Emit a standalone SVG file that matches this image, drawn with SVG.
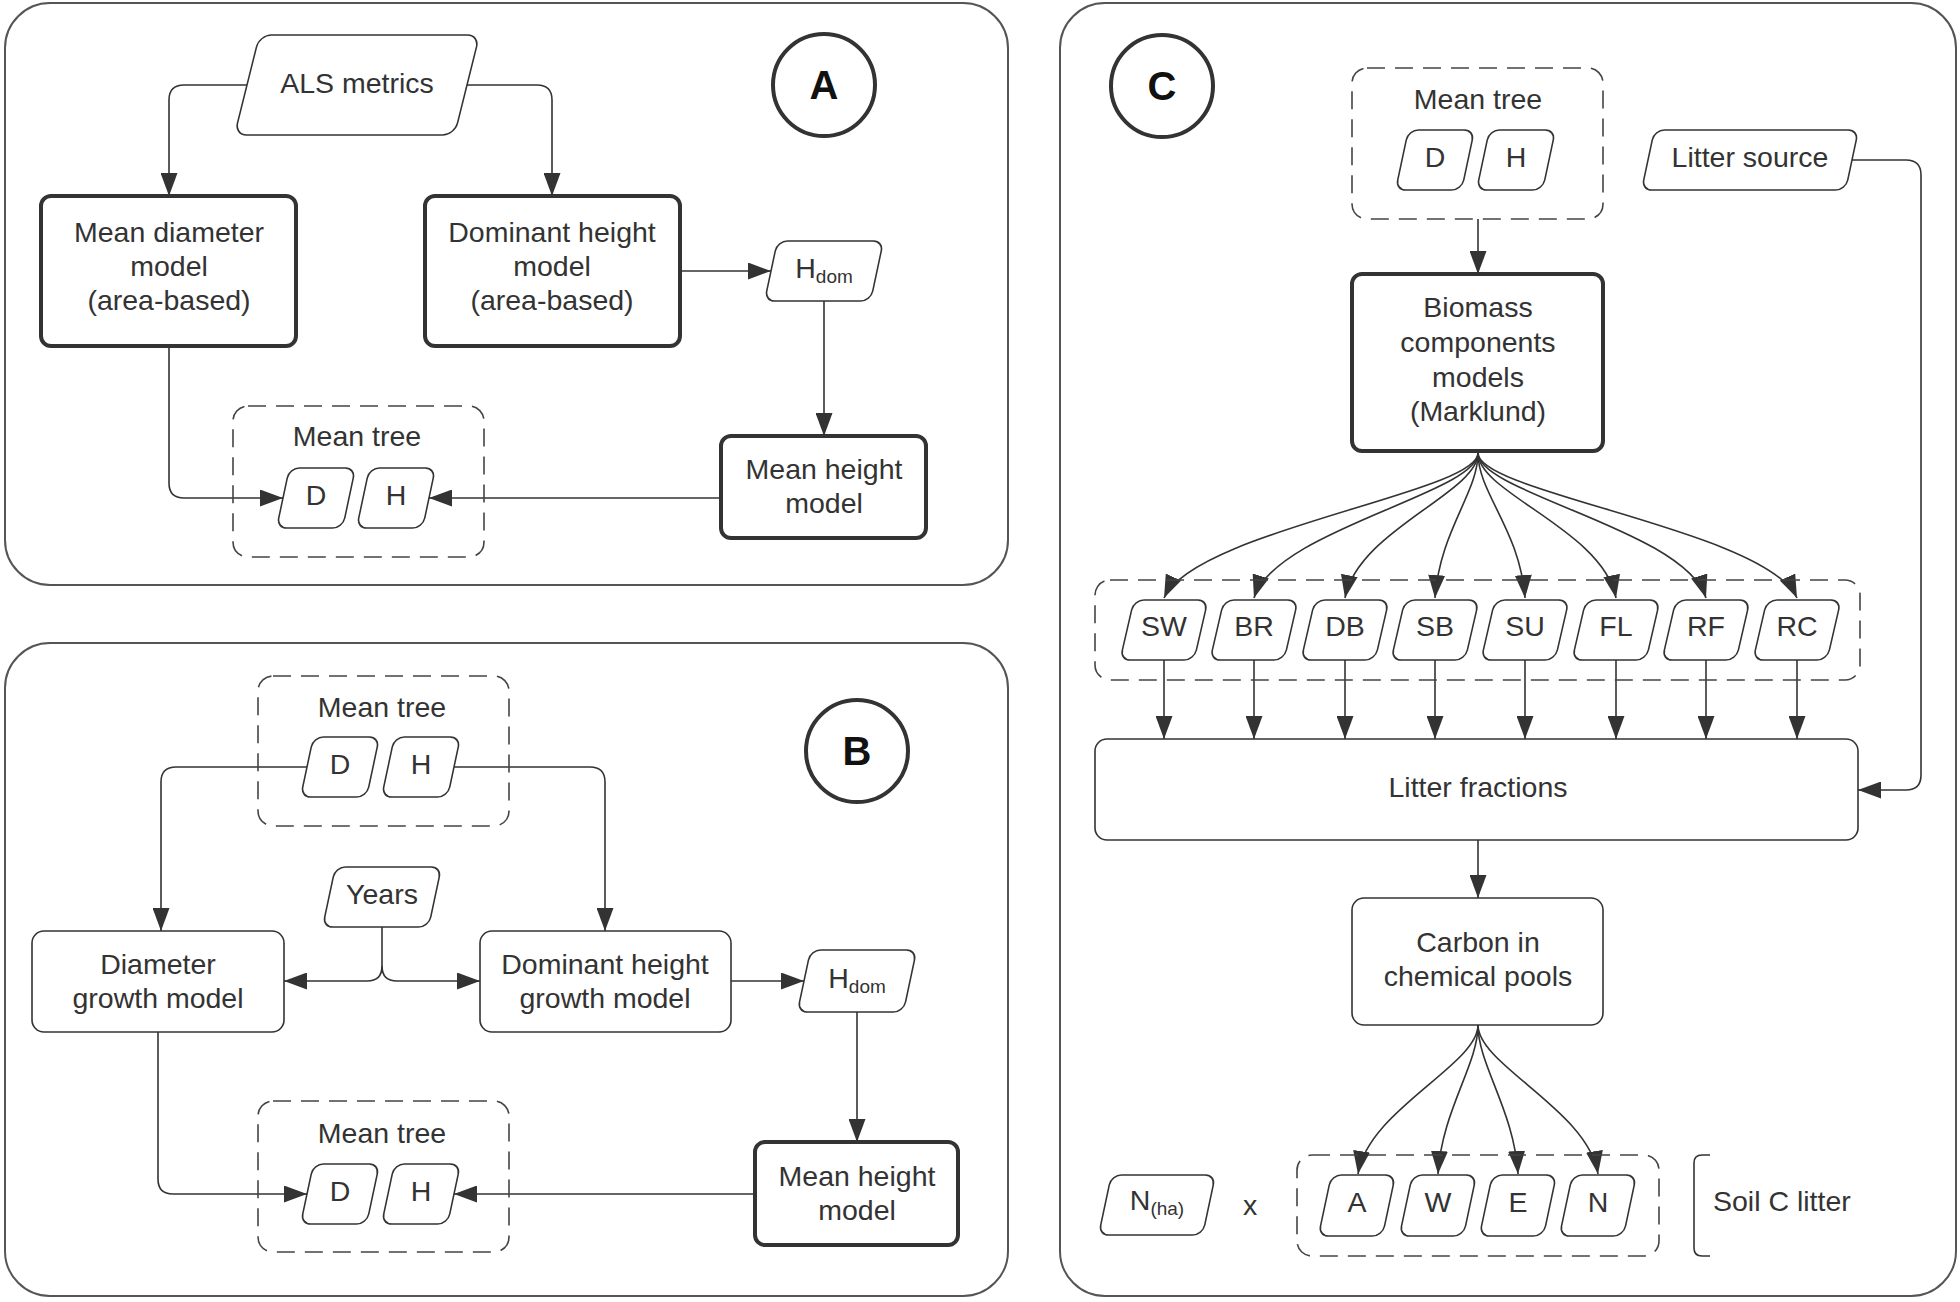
<svg xmlns="http://www.w3.org/2000/svg" width="1960" height="1302" viewBox="0 0 1960 1302">
<defs>
<style>
.panel{fill:#fff;stroke:#555;stroke-width:2}
.node{fill:#fff;stroke:#333;stroke-width:1.6}
.bold{fill:#fff;stroke:#333;stroke-width:4}
.circ{fill:#fff;stroke:#333;stroke-width:4}
.dash{fill:none;stroke:#444;stroke-width:1.6;stroke-dasharray:18 10}
.edge{fill:none;stroke:#333;stroke-width:1.6;marker-end:url(#arr)}
.line{fill:none;stroke:#333;stroke-width:1.6}
.t{font-family:"Liberation Sans",Arial,sans-serif;font-size:28.5px;fill:#333;text-anchor:middle}
.tl{font-family:"Liberation Sans",Arial,sans-serif;font-size:28.5px;fill:#333;text-anchor:start}
.lbl{font-family:"Liberation Sans",Arial,sans-serif;font-size:40px;font-weight:bold;fill:#111;text-anchor:middle}
</style>
<marker id="arr" viewBox="0 0 23 17" refX="23" refY="8.5" markerWidth="23" markerHeight="17" markerUnits="userSpaceOnUse" orient="auto">
<path d="M0,0 L23,8.5 L0,17 z" fill="#333"/>
</marker>
</defs>

<g id="panels">
<rect class="panel" x="5" y="3" width="1003" height="582" rx="45"/>
<rect class="panel" x="5" y="643" width="1003" height="653" rx="45"/>
<rect class="panel" x="1060" y="3" width="896" height="1293" rx="45"/>
</g>

<g id="connectors">
<!-- Panel A -->
<path class="edge" d="M247 85 H184 Q169 85 169 100 V196"/>
<path class="edge" d="M467 85 H537 Q552 85 552 100 V196"/>
<path class="edge" d="M680 271 H771"/>
<path class="edge" d="M824 301 V436"/>
<path class="edge" d="M169 346 V483 Q169 498 184 498 H283"/>
<path class="edge" d="M721 498 H429"/>
<!-- Panel B -->
<path class="edge" d="M307 767 H176 Q161 767 161 782 V931"/>
<path class="edge" d="M454 767 H590 Q605 767 605 782 V931"/>
<path class="edge" d="M382 927 V966 Q382 981 367 981 H284"/>
<path class="edge" d="M382 966 Q382 981 397 981 H480"/>
<path class="edge" d="M731 981 H804"/>
<path class="edge" d="M857 1012 V1142"/>
<path class="edge" d="M158 1032 V1179 Q158 1194 173 1194 H307"/>
<path class="edge" d="M755 1194 H454"/>
<!-- Panel C -->
<path class="edge" d="M1478 219 V274"/>
<path class="edge" d="M1478 453 C1478 493 1195 530 1164 598"/>
<path class="edge" d="M1478 453 C1478 493 1275 530 1254 598"/>
<path class="edge" d="M1478 453 C1478 493 1358 530 1345 598"/>
<path class="edge" d="M1478 453 C1478 493 1440 530 1435 598"/>
<path class="edge" d="M1478 453 C1478 493 1520 530 1525 598"/>
<path class="edge" d="M1478 453 C1478 493 1603 530 1616 598"/>
<path class="edge" d="M1478 453 C1478 493 1685 530 1706 598"/>
<path class="edge" d="M1478 453 C1478 493 1766 530 1797 598"/>
<path class="edge" d="M1164 660 V739"/>
<path class="edge" d="M1254 660 V739"/>
<path class="edge" d="M1345 660 V739"/>
<path class="edge" d="M1435 660 V739"/>
<path class="edge" d="M1525 660 V739"/>
<path class="edge" d="M1616 660 V739"/>
<path class="edge" d="M1706 660 V739"/>
<path class="edge" d="M1797 660 V739"/>
<path class="edge" d="M1852 160 H1906 Q1921 160 1921 175 V775 Q1921 790 1906 790 H1858"/>
<path class="edge" d="M1478 840 V898"/>
<path class="edge" d="M1478 1025 C1478 1065 1368 1110 1358 1174"/>
<path class="edge" d="M1478 1025 C1478 1065 1442 1110 1438 1174"/>
<path class="edge" d="M1478 1025 C1478 1065 1514 1110 1518 1174"/>
<path class="edge" d="M1478 1025 C1478 1065 1588 1110 1598 1174"/>
</g>

<!-- Panel A nodes -->
<g id="circleA"><circle class="circ" cx="824" cy="85" r="51"/><text class="lbl" x="824" y="99">A</text></g>
<g id="alsMetrics"><rect class="node" transform="translate(357 85) skewX(-14)" x="-110" y="-50" width="220" height="100" rx="12"/><text class="t" x="357" y="93">ALS metrics</text></g>
<g id="meanDiameterModel"><rect class="bold" x="41" y="196" width="255" height="150" rx="10"/>
<text class="t" x="169" y="242">Mean diameter</text><text class="t" x="169" y="276">model</text><text class="t" x="169" y="310">(area-based)</text></g>
<g id="dominantHeightModel"><rect class="bold" x="425" y="196" width="255" height="150" rx="10"/>
<text class="t" x="552" y="242">Dominant height</text><text class="t" x="552" y="276">model</text><text class="t" x="552" y="310">(area-based)</text></g>
<g id="hdomA"><rect class="node" transform="translate(824 271) skewX(-12)" x="-53" y="-30" width="106" height="60" rx="10"/><text class="t" x="824" y="278">H<tspan font-size="19" dy="5">dom</tspan></text></g>
<g id="meanHeightModelA"><rect class="bold" x="721" y="436" width="205" height="102" rx="10"/>
<text class="t" x="824" y="479">Mean height</text><text class="t" x="824" y="513">model</text></g>
<g id="meanTreeA"><rect class="dash" x="233" y="406" width="251" height="151" rx="15"/><text class="t" x="357" y="446">Mean tree</text>
<rect class="node" transform="translate(316 498) skewX(-12)" x="-33" y="-30" width="66" height="60" rx="10"/><text class="t" x="316" y="505">D</text>
<rect class="node" transform="translate(396 498) skewX(-12)" x="-33" y="-30" width="66" height="60" rx="10"/><text class="t" x="396" y="505">H</text></g>

<!-- Panel B nodes -->
<g id="circleB"><circle class="circ" cx="857" cy="751" r="51"/><text class="lbl" x="857" y="765">B</text></g>
<g id="meanTreeB1"><rect class="dash" x="258" y="676" width="251" height="150" rx="15"/><text class="t" x="382" y="717">Mean tree</text>
<rect class="node" transform="translate(340 767) skewX(-12)" x="-33" y="-30" width="66" height="60" rx="10"/><text class="t" x="340" y="774">D</text>
<rect class="node" transform="translate(421 767) skewX(-12)" x="-33" y="-30" width="66" height="60" rx="10"/><text class="t" x="421" y="774">H</text></g>
<g id="years"><rect class="node" transform="translate(382 897) skewX(-12)" x="-53" y="-30" width="106" height="60" rx="10"/><text class="t" x="382" y="904">Years</text></g>
<g id="diameterGrowthModel"><rect class="node" x="32" y="931" width="252" height="101" rx="12"/>
<text class="t" x="158" y="974">Diameter</text><text class="t" x="158" y="1008">growth model</text></g>
<g id="dominantHeightGrowthModel"><rect class="node" x="480" y="931" width="251" height="101" rx="12"/>
<text class="t" x="605" y="974">Dominant height</text><text class="t" x="605" y="1008">growth model</text></g>
<g id="hdomB"><rect class="node" transform="translate(857 981) skewX(-12)" x="-53" y="-31" width="106" height="62" rx="10"/><text class="t" x="857" y="988">H<tspan font-size="19" dy="5">dom</tspan></text></g>
<g id="meanHeightModelB"><rect class="bold" x="755" y="1142" width="203" height="103" rx="10"/>
<text class="t" x="857" y="1186">Mean height</text><text class="t" x="857" y="1220">model</text></g>
<g id="meanTreeB2"><rect class="dash" x="258" y="1101" width="251" height="151" rx="15"/><text class="t" x="382" y="1143">Mean tree</text>
<rect class="node" transform="translate(340 1194) skewX(-12)" x="-33" y="-30" width="66" height="60" rx="10"/><text class="t" x="340" y="1201">D</text>
<rect class="node" transform="translate(421 1194) skewX(-12)" x="-33" y="-30" width="66" height="60" rx="10"/><text class="t" x="421" y="1201">H</text></g>

<!-- Panel C nodes -->
<g id="circleC"><circle class="circ" cx="1162" cy="86" r="51"/><text class="lbl" x="1162" y="100">C</text></g>
<g id="meanTreeC"><rect class="dash" x="1352" y="68" width="251" height="151" rx="15"/><text class="t" x="1478" y="109">Mean tree</text>
<rect class="node" transform="translate(1435 160) skewX(-12)" x="-33" y="-30" width="66" height="60" rx="10"/><text class="t" x="1435" y="167">D</text>
<rect class="node" transform="translate(1516 160) skewX(-12)" x="-33" y="-30" width="66" height="60" rx="10"/><text class="t" x="1516" y="167">H</text></g>
<g id="litterSource"><rect class="node" transform="translate(1750 160) skewX(-12)" x="-102" y="-30" width="204" height="60" rx="10"/><text class="t" x="1750" y="167">Litter source</text></g>
<g id="biomassModels"><rect class="bold" x="1352" y="274" width="251" height="177" rx="10"/>
<text class="t" x="1478" y="317">Biomass</text><text class="t" x="1478" y="352">components</text><text class="t" x="1478" y="387">models</text><text class="t" x="1478" y="421">(Marklund)</text></g>
<g id="components"><rect class="dash" x="1095" y="580" width="765" height="100" rx="15"/>
<rect class="node" transform="translate(1164 630) skewX(-13)" x="-37" y="-30" width="74" height="60" rx="10"/><text class="t" x="1164" y="636">SW</text>
<rect class="node" transform="translate(1254 630) skewX(-13)" x="-37" y="-30" width="74" height="60" rx="10"/><text class="t" x="1254" y="636">BR</text>
<rect class="node" transform="translate(1345 630) skewX(-13)" x="-37" y="-30" width="74" height="60" rx="10"/><text class="t" x="1345" y="636">DB</text>
<rect class="node" transform="translate(1435 630) skewX(-13)" x="-37" y="-30" width="74" height="60" rx="10"/><text class="t" x="1435" y="636">SB</text>
<rect class="node" transform="translate(1525 630) skewX(-13)" x="-37" y="-30" width="74" height="60" rx="10"/><text class="t" x="1525" y="636">SU</text>
<rect class="node" transform="translate(1616 630) skewX(-13)" x="-37" y="-30" width="74" height="60" rx="10"/><text class="t" x="1616" y="636">FL</text>
<rect class="node" transform="translate(1706 630) skewX(-13)" x="-37" y="-30" width="74" height="60" rx="10"/><text class="t" x="1706" y="636">RF</text>
<rect class="node" transform="translate(1797 630) skewX(-13)" x="-37" y="-30" width="74" height="60" rx="10"/><text class="t" x="1797" y="636">RC</text></g>
<g id="litterFractions"><rect class="node" x="1095" y="739" width="763" height="101" rx="12"/><text class="t" x="1478" y="797">Litter fractions</text></g>
<g id="carbonPools"><rect class="node" x="1352" y="898" width="251" height="127" rx="12"/>
<text class="t" x="1478" y="952">Carbon in</text><text class="t" x="1478" y="986">chemical pools</text></g>
<g id="nha"><rect class="node" transform="translate(1157 1205) skewX(-12)" x="-52" y="-30" width="104" height="60" rx="10"/><text class="t" x="1157" y="1210">N<tspan font-size="19" dy="5">(ha)</tspan></text></g>
<g id="times"><text class="t" x="1250" y="1215">x</text></g>
<g id="awen"><rect class="dash" x="1297" y="1155" width="362" height="101" rx="15"/>
<rect class="node" transform="translate(1357 1205) skewX(-12)" x="-32" y="-30" width="64" height="61" rx="10"/><text class="t" x="1357" y="1212">A</text>
<rect class="node" transform="translate(1438 1205) skewX(-12)" x="-32" y="-30" width="64" height="61" rx="10"/><text class="t" x="1438" y="1212">W</text>
<rect class="node" transform="translate(1518 1205) skewX(-12)" x="-32" y="-30" width="64" height="61" rx="10"/><text class="t" x="1518" y="1212">E</text>
<rect class="node" transform="translate(1598 1205) skewX(-12)" x="-32" y="-30" width="64" height="61" rx="10"/><text class="t" x="1598" y="1212">N</text></g>
<g id="soilCLitter"><path class="line" d="M1710 1155 H1702 Q1694 1155 1694 1163 V1248 Q1694 1256 1702 1256 H1710"/><text class="tl" x="1713" y="1211">Soil C litter</text></g>
</svg>
